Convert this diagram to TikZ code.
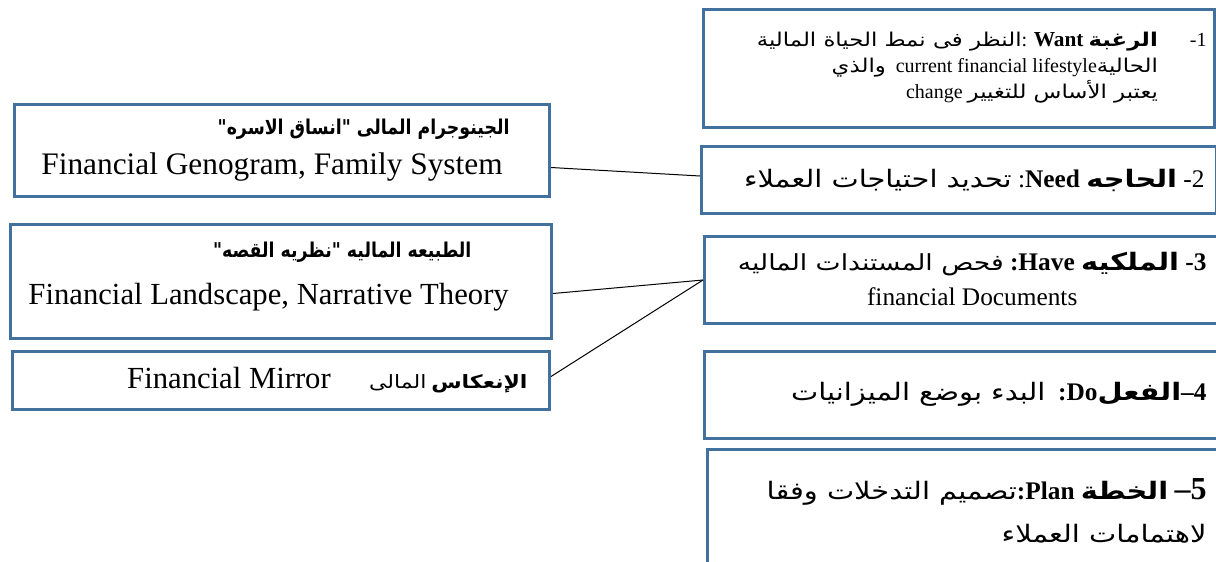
\documentclass[tikz,border=0pt]{standalone}
\usepackage{fontspec}
\setmainfont{Liberation Serif}
\newfontfamily\arabicfont[Script=Arabic,Scale=0.95,FakeStretch=1.2]{DejaVu Sans}
\newfontfamily\titlefont[Script=Arabic,Scale=0.9,FakeStretch=0.85]{DejaVu Sans}
\TeXXeTstate=1
\newcommand{\ar}[1]{{\arabicfont\beginR #1\endR}}
\newcommand{\arb}[1]{{\arabicfont\bfseries\beginR #1\endR}}
\newcommand{\artitle}[1]{{\titlefont\bfseries\beginR #1\endR}}
\definecolor{boxblue}{RGB}{65,113,156}

\tikzset{every picture/.style={line width=0.75pt}}
\tikzset{
  box/.style={draw=boxblue, line width=2.25pt, anchor=north west, inner sep=0pt},
  txt/.style={inner sep=0pt, text=black},
  link/.style={draw=black, line width=0.75pt}
}

\begin{document}
\begin{tikzpicture}[x=0.75pt,y=0.75pt,yscale=-1,xscale=1]
\useasboundingbox (0,0) rectangle (1216,561);
\clip (0,0) rectangle (1216,561);

% right boxes
\node[box, minimum width=383.25pt, minimum height=88.5pt] (want) at (702,8) {};
\node[box, minimum width=386.25pt, minimum height=50.25pt] (need) at (700,145) {};
\node[box, minimum width=391.5pt, minimum height=65.25pt] (have) at (703,235) {};
\node[box, minimum width=391.5pt, minimum height=65.25pt] (do) at (703,350) {};
\node[box, minimum width=389.25pt, minimum height=95pt] (plan) at (706,448) {};

% left boxes
\node[box, minimum width=401.25pt, minimum height=69pt] (geno) at (13,103) {};
\node[box, minimum width=405.75pt, minimum height=85.5pt] (land) at (9,223) {};
\node[box, minimum width=402.75pt, minimum height=43.5pt] (mirror) at (11,350) {};

% Text Node
\node[txt, anchor=east, font=\fontsize{15}{19.5}\selectfont] (wanttxt) at (1207,67) {%
\begin{tabular}{@{}r@{\hspace{1.6em}}r@{}}
\ar{النظر فى نمط الحياة المالية}: {\fontsize{16}{19.5}\selectfont\textbf{Want}} \arb{الرغبة} & -1\\
\ar{والذي}\ \ current financial lifestyle\ar{الحالية} & \\
change \ar{يعتبر الأساس للتغيير} &
\end{tabular}};
% Text Node
\node[txt, anchor=east, font=\fontsize{19}{22}\selectfont] (needtxt) at (1205,180) {%
\ar{تحديد احتياجات العملاء} :\textbf{Need} \arb{الحاجه} -2};
% Text Node
\node[txt, anchor=east, font=\fontsize{19}{26}\selectfont, align=center] (havetxt) at (1207,279) {%
{\fontsize{17.5}{26}\selectfont\ar{فحص المستندات الماليه}} \textbf{:Have} \arb{الملكيه} \textbf{-3}\\
financial Documents};
% Text Node
\node[txt, anchor=east, font=\fontsize{19}{22}\selectfont] (dotxt) at (1207,394) {%
\ar{البدء بوضع الميزانيات}\ \ \textbf{:Do}\arb{الفعل}\textbf{--4}};
% Text Node
\node[txt, anchor=north east, font=\fontsize{19}{32}\selectfont, align=right] (plantxt) at (1207,478) {%
\ar{تصميم التدخلات وفقا}\textbf{:Plan} \arb{الخطة} {\fontsize{24}{26}\selectfont\textbf{--5}}\\
\ar{لاهتمامات العملاء}};

% Text Node
\node[txt, anchor=east, font=\fontsize{17}{20}\selectfont] (genotitle) at (510,129) {%
\artitle{الجينوجرام المالى "انساق الاسره"}};
\node[txt, font=\fontsize{23.5}{30}\selectfont] (genotxt) at (272,167) {%
Financial Genogram, Family System};
% Text Node
\node[txt, anchor=east, font=\fontsize{17}{20}\selectfont] (landtitle) at (472,252) {%
\artitle{الطبيعه الماليه "نظريه القصه"}};
\node[txt, anchor=west, font=\fontsize{23}{30}\selectfont] (landtxt) at (28,297) {%
Financial Landscape, Narrative Theory};
% Text Node
\node[txt, anchor=east, font=\fontsize{23}{30}\selectfont] (mirrortxt) at (528,380) {%
Financial Mirror\quad\ {\fontsize{14.5}{24}\selectfont\ar{المالى} \arb{الإنعكاس}}};

% Straight Lines
\draw[link] ([yshift=12.75pt]geno.east) -- ([yshift=-3pt]need.west);
\draw[link] ([yshift=9pt]land.east) -- (have.west);
\draw[link] ([yshift=-3pt]mirror.east) -- (have.west);

\end{tikzpicture}
\end{document}
